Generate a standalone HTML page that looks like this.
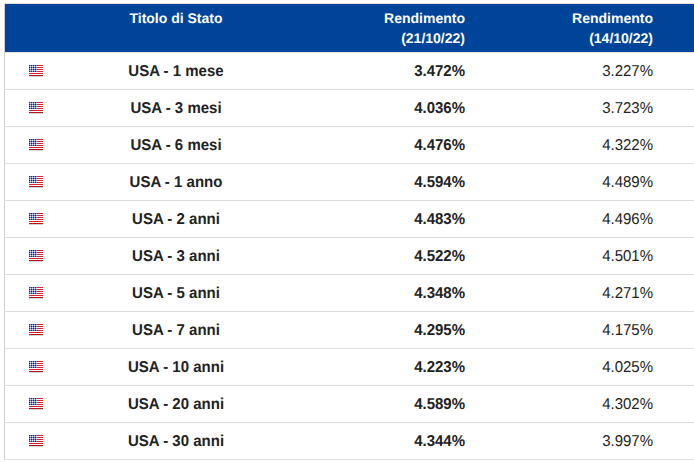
<!DOCTYPE html>
<html><head><meta charset="utf-8"><style>
html,body{margin:0;padding:0;background:#fff;width:694px;height:462px;overflow:hidden;position:relative}
body{font-family:"Liberation Sans",sans-serif;}
.bt{position:absolute;left:4px;top:3px;width:690px;height:1px;background:#ddd}
.bl{position:absolute;left:4px;top:3px;width:1px;height:457px;background:#d0d0d0}
.hd{position:absolute;left:5px;top:4px;width:689px;height:48px;background:#004499}
.ln{position:absolute;left:4px;width:690px;height:1px;background:#dedede}
.t{position:absolute;white-space:nowrap;font-weight:bold;line-height:20px}
.h{color:#fff;font-size:14px;text-rendering:geometricPrecision}
.c{text-align:center;width:200px}
.r{text-align:right;width:150px}
.d{font-size:15px;color:#222;text-rendering:geometricPrecision;transform:scaleY(1.05);transform-origin:50% 15px}
.n{font-weight:normal}
.fl{position:absolute;left:29px}
</style></head><body>
<svg width="0" height="0" style="position:absolute"><defs><symbol id="flag" viewBox="0 0 15 12" shape-rendering="crispEdges"><rect x="0" y="0" width="14" height="1" fill="#e41e26"/><rect x="0" y="1" width="14" height="1" fill="#ffffff"/><rect x="0" y="2" width="14" height="1" fill="#e41e26"/><rect x="0" y="3" width="14" height="1" fill="#ffffff"/><rect x="0" y="4" width="14" height="1" fill="#e41e26"/><rect x="0" y="5" width="14" height="1" fill="#ffffff"/><rect x="0" y="6" width="14" height="1" fill="#e41e26"/><rect x="0" y="7" width="14" height="1" fill="#ffffff"/><rect x="0" y="8" width="14" height="1" fill="#e41e26"/><rect x="0" y="9" width="14" height="1" fill="#ffffff"/><rect x="0" y="10" width="14" height="1" fill="#b8141a"/><rect x="0" y="0" width="1" height="1" fill="#18288a"/><rect x="1" y="0" width="1" height="1" fill="#8088c4"/><rect x="2" y="0" width="1" height="1" fill="#18288a"/><rect x="3" y="0" width="1" height="1" fill="#8088c4"/><rect x="4" y="0" width="1" height="1" fill="#18288a"/><rect x="5" y="0" width="1" height="1" fill="#8088c4"/><rect x="6" y="0" width="1" height="1" fill="#18288a"/><rect x="7" y="0" width="1" height="1" fill="#8088c4"/><rect x="0" y="1" width="1" height="1" fill="#8088c4"/><rect x="1" y="1" width="1" height="1" fill="#e4e8f6"/><rect x="2" y="1" width="1" height="1" fill="#8088c4"/><rect x="3" y="1" width="1" height="1" fill="#e4e8f6"/><rect x="4" y="1" width="1" height="1" fill="#8088c4"/><rect x="5" y="1" width="1" height="1" fill="#e4e8f6"/><rect x="6" y="1" width="1" height="1" fill="#8088c4"/><rect x="7" y="1" width="1" height="1" fill="#e4e8f6"/><rect x="0" y="2" width="1" height="1" fill="#18288a"/><rect x="1" y="2" width="1" height="1" fill="#8088c4"/><rect x="2" y="2" width="1" height="1" fill="#18288a"/><rect x="3" y="2" width="1" height="1" fill="#8088c4"/><rect x="4" y="2" width="1" height="1" fill="#18288a"/><rect x="5" y="2" width="1" height="1" fill="#8088c4"/><rect x="6" y="2" width="1" height="1" fill="#18288a"/><rect x="7" y="2" width="1" height="1" fill="#8088c4"/><rect x="0" y="3" width="1" height="1" fill="#8088c4"/><rect x="1" y="3" width="1" height="1" fill="#e4e8f6"/><rect x="2" y="3" width="1" height="1" fill="#8088c4"/><rect x="3" y="3" width="1" height="1" fill="#e4e8f6"/><rect x="4" y="3" width="1" height="1" fill="#8088c4"/><rect x="5" y="3" width="1" height="1" fill="#e4e8f6"/><rect x="6" y="3" width="1" height="1" fill="#8088c4"/><rect x="7" y="3" width="1" height="1" fill="#e4e8f6"/><rect x="0" y="4" width="1" height="1" fill="#18288a"/><rect x="1" y="4" width="1" height="1" fill="#8088c4"/><rect x="2" y="4" width="1" height="1" fill="#18288a"/><rect x="3" y="4" width="1" height="1" fill="#8088c4"/><rect x="4" y="4" width="1" height="1" fill="#18288a"/><rect x="5" y="4" width="1" height="1" fill="#8088c4"/><rect x="6" y="4" width="1" height="1" fill="#18288a"/><rect x="7" y="4" width="1" height="1" fill="#8088c4"/><rect x="0" y="5" width="1" height="1" fill="#8088c4"/><rect x="1" y="5" width="1" height="1" fill="#e4e8f6"/><rect x="2" y="5" width="1" height="1" fill="#8088c4"/><rect x="3" y="5" width="1" height="1" fill="#e4e8f6"/><rect x="4" y="5" width="1" height="1" fill="#8088c4"/><rect x="5" y="5" width="1" height="1" fill="#e4e8f6"/><rect x="6" y="5" width="1" height="1" fill="#8088c4"/><rect x="7" y="5" width="1" height="1" fill="#e4e8f6"/><rect x="0" y="6" width="1" height="1" fill="#18288a"/><rect x="1" y="6" width="1" height="1" fill="#8088c4"/><rect x="2" y="6" width="1" height="1" fill="#18288a"/><rect x="3" y="6" width="1" height="1" fill="#8088c4"/><rect x="4" y="6" width="1" height="1" fill="#18288a"/><rect x="5" y="6" width="1" height="1" fill="#8088c4"/><rect x="6" y="6" width="1" height="1" fill="#18288a"/><rect x="7" y="6" width="1" height="1" fill="#8088c4"/><rect x="0" y="11" width="14" height="1" fill="#d2d8d8"/></symbol></defs></svg>
<div class="bt"></div><div class="bl"></div>
<div class="hd"></div><div style="position:absolute;left:5px;top:52px;width:689px;height:1px;background:#e4e4e4"></div>

<div class="t h c" style="left:76px;top:8px">Titolo di Stato</div>
<div class="t h r" style="left:315px;top:8px">Rendimento<br>(21/10/22)</div>
<div class="t h r" style="left:503px;top:8px">Rendimento<br>(14/10/22)</div>
<div class="ln" style="top:89px"></div>
<svg class="fl" style="top:65px" width="15" height="12"><use href="#flag"/></svg>
<div class="t d c" style="left:76px;top:62px">USA - 1 mese</div>
<div class="t d r" style="left:315px;top:62px">3.472%</div>
<div class="t d r n" style="left:503px;top:62px">3.227%</div>
<div class="ln" style="top:126px"></div>
<svg class="fl" style="top:102px" width="15" height="12"><use href="#flag"/></svg>
<div class="t d c" style="left:76px;top:99px">USA - 3 mesi</div>
<div class="t d r" style="left:315px;top:99px">4.036%</div>
<div class="t d r n" style="left:503px;top:99px">3.723%</div>
<div class="ln" style="top:163px"></div>
<svg class="fl" style="top:139px" width="15" height="12"><use href="#flag"/></svg>
<div class="t d c" style="left:76px;top:136px">USA - 6 mesi</div>
<div class="t d r" style="left:315px;top:136px">4.476%</div>
<div class="t d r n" style="left:503px;top:136px">4.322%</div>
<div class="ln" style="top:200px"></div>
<svg class="fl" style="top:176px" width="15" height="12"><use href="#flag"/></svg>
<div class="t d c" style="left:76px;top:173px">USA - 1 anno</div>
<div class="t d r" style="left:315px;top:173px">4.594%</div>
<div class="t d r n" style="left:503px;top:173px">4.489%</div>
<div class="ln" style="top:237px"></div>
<svg class="fl" style="top:213px" width="15" height="12"><use href="#flag"/></svg>
<div class="t d c" style="left:76px;top:210px">USA - 2 anni</div>
<div class="t d r" style="left:315px;top:210px">4.483%</div>
<div class="t d r n" style="left:503px;top:210px">4.496%</div>
<div class="ln" style="top:274px"></div>
<svg class="fl" style="top:250px" width="15" height="12"><use href="#flag"/></svg>
<div class="t d c" style="left:76px;top:247px">USA - 3 anni</div>
<div class="t d r" style="left:315px;top:247px">4.522%</div>
<div class="t d r n" style="left:503px;top:247px">4.501%</div>
<div class="ln" style="top:311px"></div>
<svg class="fl" style="top:287px" width="15" height="12"><use href="#flag"/></svg>
<div class="t d c" style="left:76px;top:284px">USA - 5 anni</div>
<div class="t d r" style="left:315px;top:284px">4.348%</div>
<div class="t d r n" style="left:503px;top:284px">4.271%</div>
<div class="ln" style="top:348px"></div>
<svg class="fl" style="top:324px" width="15" height="12"><use href="#flag"/></svg>
<div class="t d c" style="left:76px;top:321px">USA - 7 anni</div>
<div class="t d r" style="left:315px;top:321px">4.295%</div>
<div class="t d r n" style="left:503px;top:321px">4.175%</div>
<div class="ln" style="top:385px"></div>
<svg class="fl" style="top:361px" width="15" height="12"><use href="#flag"/></svg>
<div class="t d c" style="left:76px;top:358px">USA - 10 anni</div>
<div class="t d r" style="left:315px;top:358px">4.223%</div>
<div class="t d r n" style="left:503px;top:358px">4.025%</div>
<div class="ln" style="top:422px"></div>
<svg class="fl" style="top:398px" width="15" height="12"><use href="#flag"/></svg>
<div class="t d c" style="left:76px;top:395px">USA - 20 anni</div>
<div class="t d r" style="left:315px;top:395px">4.589%</div>
<div class="t d r n" style="left:503px;top:395px">4.302%</div>
<div class="ln" style="top:459px"></div>
<svg class="fl" style="top:435px" width="15" height="12"><use href="#flag"/></svg>
<div class="t d c" style="left:76px;top:432px">USA - 30 anni</div>
<div class="t d r" style="left:315px;top:432px">4.344%</div>
<div class="t d r n" style="left:503px;top:432px">3.997%</div>
</body></html>
